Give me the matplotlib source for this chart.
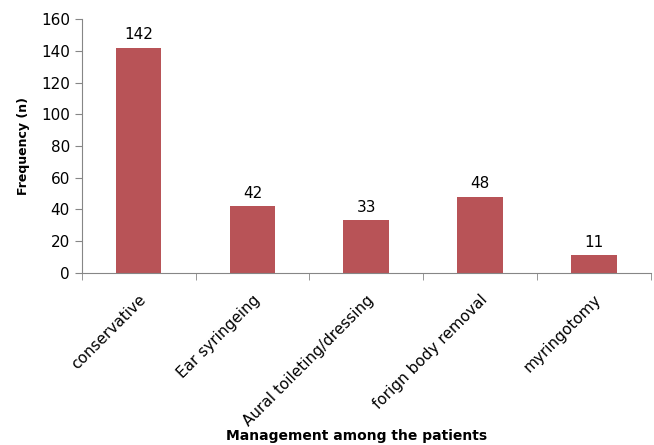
import numpy as np
import matplotlib.pyplot as plt

plt.rcParams['font.family'] = ['DejaVu Sans']

# management categories
categories = ["conservative", "Ear syringeing", "Aural toileting/dressing",
              "forign body removal", "myringotomy"]
# number of patients
counts = [142, 42, 33, 48, 11]

bar_color = "#B85357"
axis_color = "#868686"

fig = plt.figure(figsize=(6.54, 4.45), dpi=100)
ax = fig.add_axes([0.125, 0.387, 0.87, 0.57])

x = np.arange(len(categories))
bars = ax.bar(x, counts, width=0.4, color=bar_color)

for b, v in zip(bars, counts):
    ax.annotate(str(v), (b.get_x() + b.get_width()/2, v), xytext=(0, 4),
                textcoords="offset points", ha="center", va="bottom", fontsize=11)

ax.set_xlim(-0.5, len(categories) - 0.5)
ax.set_ylim(0, 160)
ax.set_yticks(np.arange(0, 161, 20))
ax.set_xticks(x)
ax.set_xticklabels(categories, rotation=45, ha="right", rotation_mode="anchor", fontsize=11)
ax.set_xticks(np.arange(-0.5, len(categories)), minor=True)
ax.tick_params(axis="x", which="major", length=0, pad=14)
ax.tick_params(axis="x", which="minor", length=5, color=axis_color, direction="out")
ax.tick_params(axis="y", length=5, color=axis_color, labelsize=11)

for s in ["top", "right"]:
    ax.spines[s].set_visible(False)
for s in ["left", "bottom"]:
    ax.spines[s].set_color(axis_color)

ax.set_ylabel("Frequency (n)", fontweight="bold", fontsize=9, labelpad=8)
fig.text(0.545, 0.005, "Management among the patients", ha="center", va="bottom",
         fontweight="bold", fontsize=10)

fig.savefig("out.png")
